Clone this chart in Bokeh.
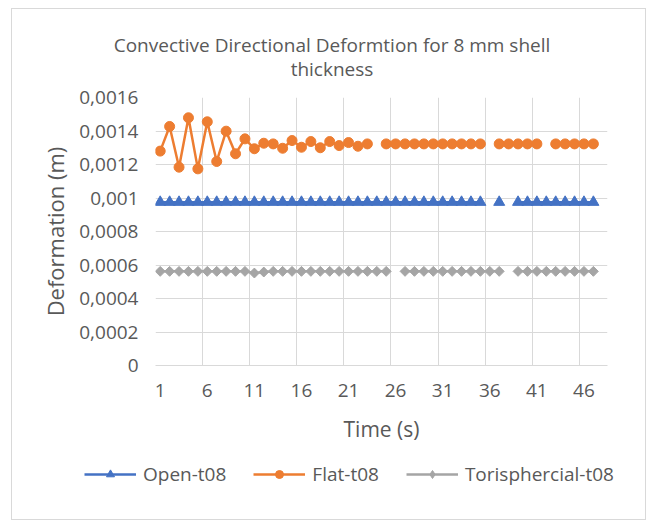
from bokeh.plotting import figure
from bokeh.models import FixedTicker, Legend, LegendItem, Label, Range1d
from bokeh.layouts import column
from bokeh.embed import file_html
from bokeh.resources import INLINE

nan = float("nan")

# ---- data ----
time_steps = [1, 2, 3, 4, 5, 6, 7, 8, 9, 10, 11, 12, 13, 14, 15, 16, 17, 18, 19, 20,
              21, 22, 23, 24, 25, 26, 27, 28, 29, 30, 31, 32, 33, 34, 35, 36, 37, 38, 39, 40,
              41, 42, 43, 44, 45, 46, 47, 48]

open_t08 = [0.000975, 0.000975, 0.000975, 0.000975, 0.000975, 0.000975, 0.000975, 0.000975,
            0.000975, 0.000975, 0.000975, 0.000975, 0.000975, 0.000975, 0.000975, 0.000975,
            0.000975, 0.000975, 0.000975, 0.000975, 0.000975, 0.000975, 0.000975, 0.000975,
            0.000975, 0.000975, 0.000975, 0.000975, 0.000975, 0.000975, 0.000975, 0.000975,
            0.000975, 0.000975, 0.000975, nan, 0.000975, nan, 0.000975, 0.000975,
            0.000975, 0.000975, 0.000975, 0.000975, 0.000975, 0.000975, 0.000975, nan]

flat_t08 = [0.00128, 0.001427, 0.001184, 0.001479, 0.001174, 0.001455, 0.001218, 0.001399,
            0.001264, 0.001353, 0.001294, 0.001327, 0.001323, 0.001297, 0.001343, 0.001303,
            0.001337, 0.0013, 0.001337, 0.001313, 0.001331, 0.001309, 0.001323, nan,
            0.001323, 0.001323, 0.001323, 0.001323, 0.001323, 0.001323, 0.001323, 0.001323,
            0.001323, 0.001323, 0.001323, nan, 0.001323, 0.001323, 0.001323, 0.001323,
            0.001323, nan, 0.001323, 0.001323, 0.001323, 0.001323, 0.001323, nan]

tori_t08 = [0.000562, 0.000562, 0.000562, 0.000562, 0.000562, 0.000562, 0.000562, 0.000562,
            0.000562, 0.000562, 0.000552, 0.000558, 0.000562, 0.000562, 0.000562, 0.000562,
            0.000562, 0.000562, 0.000562, 0.000562, 0.000562, 0.000562, 0.000562, 0.000562,
            0.000562, nan, 0.000562, 0.000562, 0.000562, 0.000562, 0.000562, 0.000562,
            0.000562, 0.000562, 0.000562, 0.000562, 0.000562, nan, 0.000562, 0.000562,
            0.000562, 0.000562, 0.000562, 0.000562, 0.000562, 0.000562, 0.000562, nan]

x_ticks = [1, 6, 11, 16, 21, 26, 31, 36, 41, 46]
x_tick_labels = ["1", "6", "11", "16", "21", "26", "31", "36", "41", "46"]
x_grid_positions = [0.5, 5.5, 10.5, 15.5, 20.5, 25.5, 30.5, 35.5, 40.5, 45.5]
y_ticks = [0, 0.0002, 0.0004, 0.0006, 0.0008, 0.001, 0.0012, 0.0014, 0.0016]
y_tick_labels = ["0", "0,0002", "0,0004", "0,0006", "0,0008", "0,001", "0,0012", "0,0014", "0,0016"]

title_lines = ["Convective Directional Deformtion for 8 mm shell", "thickness"]
series_names = ["Open-t08", "Flat-t08", "Torisphercial-t08"]

BLUE = "#4472C4"
ORANGE = "#ED7D31"
GRAY = "#A5A5A5"
TEXT = "#595959"
GRID = "#D9D9D9"
FONT = "Open Sans"

W = 633
TITLE_H = 76
MAIN_H = 362
LEG_H = 72


def strip(height):
    f = figure(width=W, height=height, output_backend="svg", toolbar_location=None,
               x_range=Range1d(0, W), y_range=Range1d(0, height),
               min_border=0, x_axis_type=None, y_axis_type=None, frame_align=False)
    f.outline_line_color = None
    f.xgrid.visible = False
    f.ygrid.visible = False
    return f


# ---- title strip ----
t = strip(TITLE_H)
title_pos = [(319.5, 41), (319.5, 17)]
for line, (tx, ty) in zip(title_lines, title_pos):
    t.add_layout(Label(x=tx, y=ty, text=line, text_align="center", text_baseline="middle",
                       text_font=FONT, text_font_size="19px", text_color=TEXT))

# ---- main chart ----
p = figure(width=W, height=MAIN_H, output_backend="svg", toolbar_location=None,
           x_range=Range1d(0.5, 48.5), y_range=Range1d(0, 0.0016), frame_align=False,
           min_border_left=143, min_border_right=38, min_border_top=12, min_border_bottom=82)
p.outline_line_color = None

p.xgrid.ticker = FixedTicker(ticks=x_grid_positions)
p.xgrid.grid_line_color = GRID
p.ygrid.ticker = FixedTicker(ticks=y_ticks)
p.ygrid.grid_line_color = GRID

p.xaxis.ticker = FixedTicker(ticks=x_ticks)
p.xaxis.major_label_overrides = {tk: lb for tk, lb in zip(x_ticks, x_tick_labels)}
p.yaxis.ticker = FixedTicker(ticks=y_ticks)
p.yaxis.major_label_overrides = {tk: lb for tk, lb in zip(y_ticks, y_tick_labels)}
for ax in (p.xaxis[0], p.yaxis[0]):
    ax.major_tick_line_color = None
    ax.minor_tick_line_color = None
    ax.major_label_text_font = FONT
    ax.major_label_text_font_size = "19px"
    ax.major_label_text_color = TEXT
    ax.axis_label_text_font = FONT
    ax.axis_label_text_font_style = "normal"
    ax.axis_label_text_color = TEXT
p.yaxis.axis_line_color = None
p.xaxis.axis_line_color = GRID
p.yaxis.major_label_standoff = 11
p.xaxis.major_label_standoff = 12
p.yaxis.axis_label = "Deformation (m)"
p.xaxis.axis_label = "Time (s)"
p.yaxis.axis_label_standoff = 6
p.xaxis.axis_label_standoff = 15
p.yaxis.axis_label_text_font_size = "22px"
p.xaxis.axis_label_text_font_size = "21px"

p.line(time_steps, open_t08, line_color=BLUE, line_width=2.5)
p.scatter(time_steps, open_t08, marker="triangle", size=11, fill_color=BLUE, line_color=BLUE)
p.line(time_steps, flat_t08, line_color=ORANGE, line_width=2.5)
p.scatter(time_steps, flat_t08, marker="circle", size=10, fill_color=ORANGE, line_color=ORANGE)
p.line(time_steps, tori_t08, line_color=GRAY, line_width=2.5)
p.scatter(time_steps, tori_t08, marker="square", angle=0.785398, size=7,
          fill_color=GRAY, line_color=GRAY)

# ---- legend strip (hidden sample renderers, used only for legend swatches) ----
g = strip(LEG_H)
styles = [(BLUE, "triangle", 9), (ORANGE, "circle", 8), (GRAY, "diamond", 10)]
series_first = [open_t08[:1], flat_t08[:1], tori_t08[:1]]
items = []
for name, (col, mk, sz), ys in zip(series_names, styles, series_first):
    lr = g.line(time_steps[:1], ys, line_color=col, line_width=2.5, visible=False)
    sr = g.scatter(time_steps[:1], ys, marker=mk, size=sz, fill_color=col, line_color=col,
                   visible=False)
    items.append(LegendItem(label=name, renderers=[lr, sr]))
legend = Legend(items=items, orientation="horizontal", location=(72, 32),
                glyph_width=52, glyph_height=20, label_height=20, label_standoff=7, spacing=27,
                padding=0, margin=0, border_line_alpha=0, background_fill_alpha=0,
                inactive_fill_alpha=0,
                label_text_font=FONT, label_text_font_size="19px", label_text_color=TEXT)
g.add_layout(legend, "center")

layout = column(t, p, g, spacing=0,
                styles={"margin-left": "11px", "margin-top": "8px",
                        "border": "1px solid #D9D9D9"})

open("out.html", "w").write(file_html(layout, INLINE))
